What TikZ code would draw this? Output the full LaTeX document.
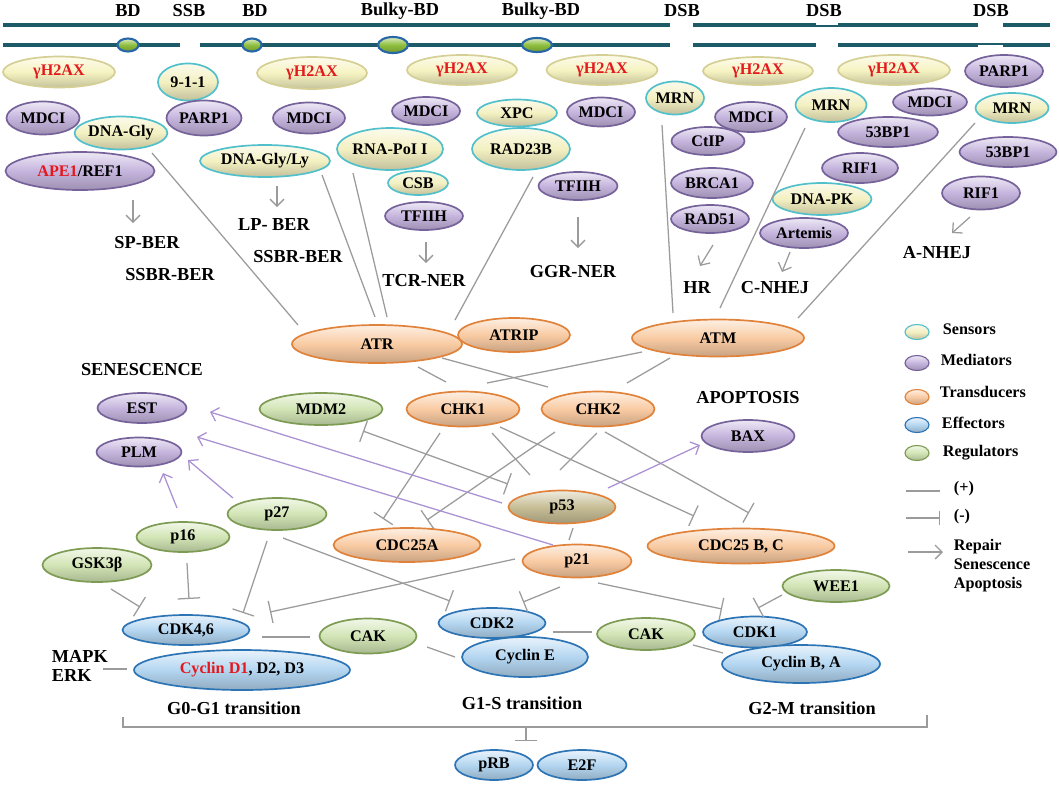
\documentclass[tikz,border=0pt]{standalone}
\usepackage{fontspec}
\setmainfont{Liberation Serif}
\usetikzlibrary{shapes,arrows.meta,calc}

\definecolor{strandcol}{HTML}{1D5B69}
\definecolor{lesF}{HTML}{8DBE3C}
\definecolor{lesD}{HTML}{2767A8}
\definecolor{senF}{HTML}{F3F0C2}
\definecolor{senD}{HTML}{52C0CB}
\definecolor{hisF}{HTML}{F6F3C2}
\definecolor{hisD}{HTML}{D5CF95}
\definecolor{medF}{HTML}{C5B4DD}
\definecolor{medD}{HTML}{76629A}
\definecolor{traF}{HTML}{F9CBA3}
\definecolor{traD}{HTML}{E0823A}
\definecolor{effF}{HTML}{B4D6F1}
\definecolor{effD}{HTML}{2D74B5}
\definecolor{regF}{HTML}{D2E5B5}
\definecolor{regD}{HTML}{7D9B53}
\definecolor{pftF}{HTML}{C7BE96}
\definecolor{txtred}{HTML}{E3191E}
\definecolor{lngray}{HTML}{9B9B9B}
\definecolor{lnviolet}{HTML}{A991D3}

\newcommand\protfont{\bfseries\fontsize{11.5}{13}\selectfont}
\newcommand\lblfont{\bfseries\fontsize{13}{13}\selectfont}
\newcommand\legfont{\bfseries\fontsize{11.5}{13.5}\selectfont}

\begin{document}
\begin{tikzpicture}[x=0.025cm, y=-0.025cm,
  oval/.style 2 args={minimum width=#1*0.025cm, minimum height=#2*0.025cm},
  gloss/.style={top color=#1!30!white, bottom color=#1!80!black, middle color=#1},
  prot/.style={ellipse, inner sep=0pt, line width=1.2pt, font=\protfont},
  sensor/.style={prot, draw=senD, gloss=senF},
  hist/.style={prot, draw=hisD, gloss=hisF, text=txtred},
  medi/.style={prot, draw=medD, gloss=medF},
  trans/.style={prot, draw=traD, gloss=traF},
  effe/.style={prot, draw=effD, gloss=effF},
  regu/.style={prot, draw=regD, gloss=regF},
  pft/.style={prot, draw=traD, gloss=pftF},
  lesion/.style={ellipse, inner sep=0pt, draw=lesD, line width=1.5pt, gloss=lesF},
  lbl/.style={font=\lblfont},
  leg/.style={font=\legfont},
  strand/.style={draw=strandcol, line width=2.8pt},
  act/.style={draw=lngray, line width=0.9pt},
  inh/.style={act, -{Bar[width=16pt]}},
  dinh/.style={act, {Bar[width=16pt]}-{Bar[width=16pt]}},
  pway/.style={act, -{Straight Barb[length=5pt,width=10pt]}},
  prom/.style={draw=lnviolet, line width=0.9pt, -{Straight Barb[length=5pt,width=10pt]}}]
\useasboundingbox (0,0) rectangle (1059,785);

% DNA
\draw[strand] (3,25) -- (670,25) (693,25) -- (816,25) (838,25) -- (978,25) (1003,25) -- (1050,25);
\draw[strand] (3,45) -- (180,45) (200,45) -- (670,45) (693,45) -- (816,45) (838,45) -- (978,45) (1003,45) -- (1050,45);
\draw[strandcol, line width=1.2pt] (816,26) -- (838,26) (978,44) -- (1003,44);
\node[lesion, oval={21}{13}] (bdA) at (128,45) {};
\node[lesion, oval={19}{13}] (bdB) at (252,45) {};
\node[lesion, oval={30}{16}] (bbA) at (393,45) {};
\node[lesion, oval={30}{14}] (bbB) at (537,45) {};

\node[lbl] (tA) at (128,11) {BD};
\node[lbl] (tB) at (189,11) {SSB};
\node[lbl] (tC) at (255,11) {BD};
\node[lbl] (tD) at (400,11) {Bulky-BD};
\node[lbl] (tE) at (541,11) {Bulky-BD};
\node[lbl] (tF) at (682,11) {DSB};
\node[lbl] (tG) at (824,11) {DSB};
\node[lbl] (tH) at (991,11) {DSB};

% sensors and mediators
\node[hist, oval={112}{31}] (hA) at (59,72) {γH2AX};
\node[medi, oval={73}{33}] (mdciA) at (43,118) {MDCI};
\node[sensor, oval={89}{33}] (dnagly) at (121,133) {DNA-Gly};
\node[medi, oval={149}{38}] (ape) at (80,171) {\textcolor{txtred}{APE1}/REF1};
\node[sensor, oval={60}{37}] (nine) at (188,82) {9-1-1};
\node[medi, oval={75}{35}] (parpA) at (204,118) {PARP1};
\node[hist, oval={110}{32}] (hB) at (312,73) {γH2AX};
\node[medi, oval={72}{31}] (mdciB) at (309,118) {MDCI};
\node[sensor, oval={130}{32}] (dnaglyly) at (265,161) {DNA-Gly/Ly};
\node[hist, oval={110}{30}] (hC) at (462,70) {γH2AX};
\node[medi, oval={68}{28}] (mdciC) at (426,111) {MDCI};
\node[sensor, oval={100}{42}] (rnapol) at (390,149) {RNA-PoI I};
\node[sensor, oval={60}{24}] (csb) at (418,183) {CSB};
\node[medi, oval={78}{28}] (tfiihA) at (424,216) {TFIIH};
\node[sensor, oval={80}{27}] (xpc) at (517,113) {XPC};
\node[sensor, oval={98}{42}] (rad23b) at (521,149) {RAD23B};
\node[hist, oval={111}{30}] (hD) at (602,70) {γH2AX};
\node[medi, oval={68}{29}] (mdciD) at (601,112) {MDCI};
\node[medi, oval={79}{28}] (tfiihB) at (578,186) {TFIIH};
\node[sensor, oval={58}{33}] (mrnA) at (675,98) {MRN};
\node[hist, oval={110}{28}] (hE) at (758,71) {γH2AX};
\node[medi, oval={72}{30}] (mdciE) at (751,117) {MDCI};
\node[medi, oval={73}{28}] (ctip) at (708,141) {CtIP};
\node[medi, oval={82}{30}] (brca) at (712,183) {BRCA1};
\node[medi, oval={78}{28}] (rad51) at (710,219) {RAD51};
\node[sensor, oval={71}{34}] (mrnB) at (831,105) {MRN};
\node[hist, oval={112}{30}] (hF) at (894,70) {γH2AX};
\node[medi, oval={74}{27}] (mdciF) at (930,102) {MDCI};
\node[medi, oval={100}{30}] (bpA) at (888,132) {53BP1};
\node[medi, oval={76}{30}] (rifA) at (860,168) {RIF1};
\node[sensor, oval={99}{32}] (dnapk) at (822,199) {DNA-PK};
\node[medi, oval={88}{30}] (artemis) at (804,233) {Artemis};
\node[medi, oval={78}{32}] (parpB) at (1004,71) {PARP1};
\node[sensor, oval={73}{30}] (mrnC) at (1012,108) {MRN};
\node[medi, oval={97}{30}] (bpB) at (1008,152) {53BP1};
\node[medi, oval={78}{33}] (rifB) at (981,193) {RIF1};

% repair pathways
\node[lbl] (spber) at (147,243) {SP-BER};
\node[lbl] (ssbrA) at (170,275) {SSBR-BER};
\node[lbl] (lpber) at (274,225) {LP- BER};
\node[lbl] (ssbrB) at (298,257) {SSBR-BER};
\node[lbl] (tcrner) at (424,281) {TCR-NER};
\node[lbl] (ggrner) at (573,272) {GGR-NER};
\node[lbl] (hr) at (697,288) {HR};
\node[lbl] (cnhej) at (775,288) {C-NHEJ};
\node[lbl] (anhej) at (937,253) {A-NHEJ};
\draw[pway] ($(ape)+(53,29)$) -- ($(spber)+(-14,-20)$);
\draw[pway] ($(dnaglyly)+(12,25)$) -- ($(lpber)+(3,-18)$);
\draw[pway] ($(tfiihA)+(2,26)$) -- ($(tcrner)+(2,-18)$);
\draw[pway] ($(tfiihB)+(0,31)$) -- ($(ggrner)+(5,-24)$);
\draw[pway] ($(rad51)+(3,26)$) -- ($(hr)+(3,-22)$);
\draw[pway] ($(artemis)+(-14,19)$) -- ($(cnhej)+(7,-16)$);
\draw[pway] ($(rifB)+(-11,24)$) -- ($(anhej)+(15,-20)$);

% transducers
\node[trans, oval={112}{34}] (atrip) at (514,335) {ATRIP};
\node[trans, oval={170}{38}] (atr) at (377,344) {ATR};
\node[trans, oval={172}{37}] (atm) at (718,338) {ATM};
\draw[act] ($(dnagly)+(31,20)$) -- ($(atr)+(-79,-19)$);
\draw[act] ($(dnaglyly)+(57,14)$) -- ($(atr)+(-2,-27)$);
\draw[act] ($(rnapol)+(-37,24)$) -- ($(atr)+(10,-27)$);
\draw[act] ($(rad23b)+(12,28)$) -- ($(atr)+(78,-24)$);
\draw[act] ($(mrnA)+(-13,27)$) -- ($(atm)+(-45,-25)$);
\draw[act] ($(mrnB)+(-26,23)$) -- ($(atm)+(2,-30)$);
\draw[act] ($(mrnC)+(-37,15)$) -- ($(atm)+(80,-20)$);

\node[lbl] (senes) at (142,370) {SENESCENCE};
\node[lbl] (apop) at (748,398) {APOPTOSIS};
\node[medi, oval={89}{30}] (est) at (142,408) {EST};
\node[medi, oval={85}{29}] (plm) at (139,452) {PLM};
\node[regu, oval={123}{32}] (mdm2) at (321,409) {MDM2};
\node[trans, oval={113}{35}] (chkA) at (463,409) {CHK1};
\node[trans, oval={113}{35}] (chkB) at (598,409) {CHK2};
\node[medi, oval={93}{32}] (bax) at (748,436) {BAX};
\draw[act] ($(atr)+(41,23)$) -- ($(chkA)+(-17,-27)$);
\draw[act] ($(atr)+(65,14)$) -- ($(chkB)+(-50,-22)$);
\draw[act] ($(atm)+(-76,14)$) -- ($(chkA)+(24,-26)$);
\draw[act] ($(atm)+(-48,20)$) -- ($(chkB)+(29,-26)$);

\node[pft, oval={107}{33}] (p53) at (562,507) {p53};
\node[regu, oval={99}{32}] (p27) at (277,514) {p27};
\node[regu, oval={93}{30}] (p16) at (183,537) {p16};
\node[regu, oval={109}{34}] (gsk) at (97,565) {GSK3β};
\node[trans, oval={147}{34}] (cdcA) at (407,545) {CDC25A};
\node[trans, oval={109}{33}] (p21) at (577,561) {p21};
\node[trans, oval={187}{35}] (cdcB) at (741,546) {CDC25 B, C};
\node[regu, oval={107}{32}] (wee) at (836,586) {WEE1};

% effectors
\node[effe, oval={127}{30}] (cdkA) at (186,630) {CDK4,6};
\node[effe, oval={216}{40}] (cycD) at (242,670) {\textcolor{txtred}{Cyclin D1}, D2, D3};
\node[regu, oval={97}{35}] (cakA) at (368,636) {CAK};
\node[effe, oval={107}{30}] (cdkB) at (492,623) {CDK2};
\node[effe, oval={126}{40}] (cycE) at (525,657) {Cyclin E};
\node[regu, oval={98}{32}] (cakB) at (646,634) {CAK};
\node[effe, oval={104}{31}] (cdkC) at (755,632) {CDK1};
\node[effe, oval={158}{38}] (cycBA) at (801,664) {Cyclin B, A};
\node[effe, oval={78}{30}] (prb) at (494,765) {pRB};
\node[effe, oval={89}{30}] (e2f) at (582,765) {E2F};
\node[lbl, align=left, anchor=west] (mapk) at (47,666) {MAPK\\ERK};
\node[lbl] (gA) at (234,708) {G0-G1 transition};
\node[lbl] (gB) at (522,703) {G1-S transition};
\node[lbl] (gC) at (812,708) {G2-M transition};

\draw[dinh] ($(mdm2)+(42,22)$) -- ($(p53)+(-54,-23)$);
\draw[inh] ($(chkA)+(-23,24)$) -- ($(cdcA)+(-24,-26)$);
\draw[inh] ($(chkB)+(-43,23)$) -- ($(cdcA)+(20,-25)$);
\draw[act] ($(chkA)+(29,24)$) -- ($(p53)+(-32,-32)$);
\draw[act] ($(chkB)+(-1,24)$) -- ($(p53)+(-2,-37)$);
\draw[inh] ($(chkA)+(37,18)$) -- ($(cdcB)+(-47,-30)$);
\draw[inh] ($(chkB)+(7,23)$) -- ($(cdcB)+(8,-33)$);
\draw[prom] ($(p53)+(46,-19)$) -- ($(bax)+(-48,9)$);
\draw[prom] ($(p53)+(-60,-4)$) -- ($(est)+(68,4)$);
\draw[prom] ($(p21)+(-24,-16)$) -- ($(plm)+(58,-15)$);
\draw[prom] ($(p16)+(-6,-29)$) -- ($(plm)+(24,21)$);
\draw[prom] ($(p27)+(-44,-16)$) -- ($(plm)+(49,8)$);
\draw[act] ($(p53)+(11,21)$) -- ($(p21)+(-8,-21)$);
\draw[inh] ($(p16)+(4,26)$) -- ($(cdkA)+(3,-31)$);
\draw[inh] ($(gsk)+(14,24)$) -- ($(cdkA)+(-46,-23)$);
\draw[inh] ($(p27)+(-10,27)$) -- ($(cdkA)+(57,-17)$);
\draw[inh] ($(p27)+(6,24)$) -- ($(cdkB)+(-42,-22)$);
\draw[inh] ($(p21)+(-62,-2)$) -- ($(cdkA)+(84,-18)$);
\draw[inh] ($(p21)+(-17,26)$) -- ($(cdkB)+(31,-21)$);
\draw[inh] ($(p21)+(21,22)$) -- ($(cdkC)+(-33,-23)$);
\draw[inh] ($(wee)+(-54,9)$) -- ($(cdkC)+(3,-24)$);
\draw[act] ($(cdkA)+(76,7)$) -- ($(cakA)+(-58,1)$);
\draw[act] ($(cakA)+(59,11)$) -- ($(cycE)+(-70,0)$);
\draw[act] ($(cdkB)+(61,9)$) -- ($(cakB)+(-54,-2)$);
\draw[act] ($(cakB)+(47,11)$) -- ($(cycBA)+(-78,-11)$);
\draw[act] ($(mapk.east)+(-10,3)$) -- ($(cycD)+(-115,-1)$);

% cell cycle bracket
\coordinate (brk) at (526,727);
\draw[act] (123,717) -- (123,727) -- (927,727) -- (927,715);
\draw[inh] (brk) -- ($(prb)+(32,-24)$);

% legend
\node[sensor, oval={24}{15}, line width=0.8pt] (lgS) at (917,332) {};
\node[medi, oval={24}{15}, line width=0.8pt] (lgM) at (917,363) {};
\node[trans, oval={24}{15}, line width=0.8pt] (lgT) at (917,397) {};
\node[effe, oval={24}{15}, line width=0.8pt] (lgE) at (917,425) {};
\node[regu, oval={24}{15}, line width=0.8pt] (lgR) at (917,453) {};
\node[leg, anchor=west] (ltS) at (938,329) {Sensors};
\node[leg, anchor=west] (ltM) at (936,360) {Mediators};
\node[leg, anchor=west] (ltT) at (935,392) {Transducers};
\node[leg, anchor=west] (ltE) at (937,423) {Effectors};
\node[leg, anchor=west] (ltR) at (938,453) {Regulators};
\node[leg, anchor=west] (lplus) at (949,489) {(+)};
\node[leg, anchor=west] (lminus) at (949,517) {(-)};
\node[leg, anchor=west, align=left] (lrep) at (949,566) {Repair\\Senescence\\Apoptosis};
\draw[act] ($(lplus.west)+(-43,2)$) -- ($(lplus.west)+(-9,2)$);
\draw[act, -{Bar[width=10pt]}] ($(lminus.west)+(-43,1)$) -- ($(lminus.west)+(-9,1)$);
\draw[pway] ($(lrep.west)+(-41,-14)$) -- ($(lrep.west)+(-6,-14)$);
\end{tikzpicture}
\end{document}
